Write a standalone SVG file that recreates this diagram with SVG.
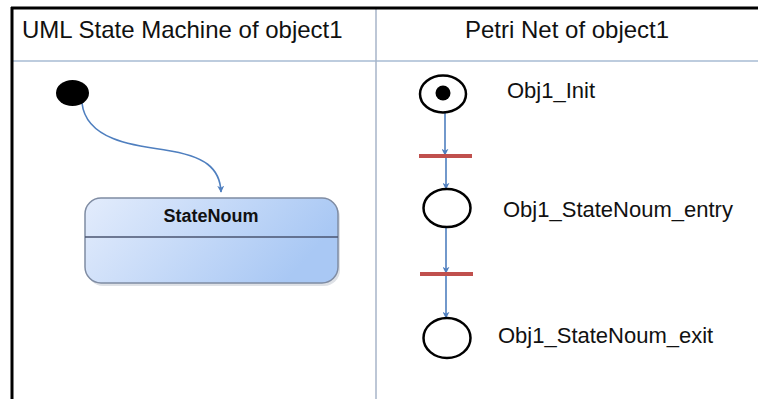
<svg xmlns="http://www.w3.org/2000/svg" width="758" height="399" viewBox="0 0 758 399">
<style>
.hdr{font-family:"Liberation Sans",Arial,sans-serif;font-size:24px;fill:#111}
.lbl{font-family:"Liberation Sans",Arial,sans-serif;font-size:22px;fill:#111}
.st{font-family:"Liberation Sans",Arial,sans-serif;font-size:18px;font-weight:bold;fill:#111}
.conn{fill:none;stroke:#4f7fbf;stroke-width:1.6}
.place{fill:#fff;stroke:#000;stroke-width:2.5}
.trans{stroke:#c0504d;stroke-width:4}
</style>
<defs>
<marker id="ah" viewBox="0 0 10 10" refX="9" refY="5" markerWidth="7" markerHeight="7" markerUnits="userSpaceOnUse" orient="auto">
<path d="M0,0 L10,5 L0,10 L3,5 Z" fill="#4f7fbf"/>
</marker>
<linearGradient id="sg" x1="0" y1="0" x2="1" y2="0.3">
<stop offset="0" stop-color="#e3ecfc"/>
<stop offset="1" stop-color="#a9c8f4"/>
</linearGradient>
</defs>
<rect width="758" height="399" fill="#fff"/>
<g id="frame">
<line x1="12" y1="61" x2="758" y2="61" stroke="#a7bbd3" stroke-width="1.5"/>
<line x1="376" y1="8" x2="376" y2="399" stroke="#a7b5c8" stroke-width="1.5"/>
<line x1="11" y1="8" x2="758" y2="8" stroke="#000" stroke-width="3"/>
<line x1="12" y1="7" x2="12" y2="399" stroke="#000" stroke-width="3"/>
</g>
<g id="headers">
<text class="hdr" x="22" y="38">UML State Machine of object1</text>
<text class="hdr" x="465" y="38">Petri Net of object1</text>
</g>
<g id="connectors">
<path class="conn" d="M82,103 C86,140 135,146 165,150 C205,156 220,168 221,192" marker-end="url(#ah)"/>
<line class="conn" x1="445" y1="113" x2="445" y2="155" marker-end="url(#ah)"/>
<line class="conn" x1="446" y1="156" x2="446" y2="189" marker-end="url(#ah)"/>
<line class="conn" x1="446" y1="227" x2="446" y2="273" marker-end="url(#ah)"/>
<line class="conn" x1="446" y1="274" x2="446" y2="318" marker-end="url(#ah)"/>
</g>
<g id="initial">
<ellipse cx="72.5" cy="93" rx="16.5" ry="13" fill="#000"/>
</g>
<g id="StateNoum">
<rect x="87" y="201" width="253" height="85" rx="16" fill="#c8cdd6" opacity="0.6"/>
<rect x="85" y="198" width="253" height="85" rx="16" fill="url(#sg)" stroke="#7f8ca3" stroke-width="1.5"/>
<line x1="85" y1="237" x2="338" y2="237" stroke="#4a5570" stroke-width="1.5"/>
<text class="st" x="211" y="222" text-anchor="middle">StateNoum</text>
</g>
<g id="Obj1_Init">
<ellipse class="place" cx="443" cy="94" rx="23" ry="18.5"/>
<circle cx="443" cy="93" r="7.5" fill="#000"/>
<text class="lbl" x="507" y="98">Obj1_Init</text>
</g>
<g id="t1"><line class="trans" x1="419" y1="156" x2="472" y2="156"/></g>
<g id="Obj1_StateNoum_entry">
<ellipse class="place" cx="447" cy="208" rx="23.5" ry="19"/>
<text class="lbl" x="503" y="217">Obj1_StateNoum_entry</text>
</g>
<g id="t2"><line class="trans" x1="420" y1="274" x2="473" y2="274"/></g>
<g id="Obj1_StateNoum_exit">
<ellipse class="place" cx="447" cy="338" rx="23.5" ry="20"/>
<text class="lbl" x="498" y="343">Obj1_StateNoum_exit</text>
</g>
</svg>
